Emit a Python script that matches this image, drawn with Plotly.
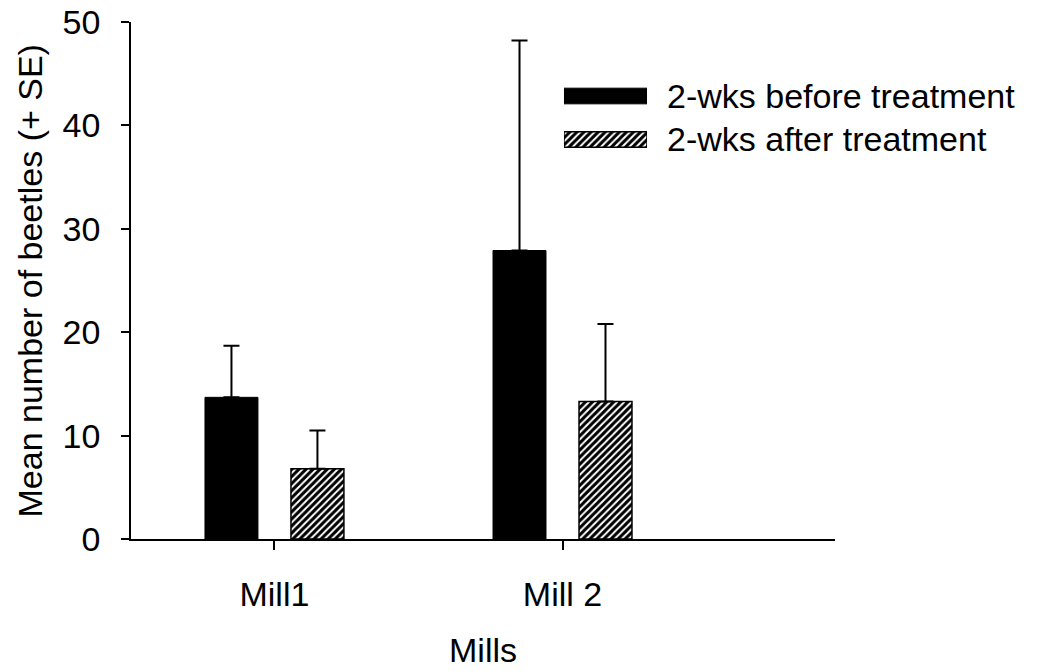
import plotly.graph_objects as go

mills = ["Mill1", "Mill 2"]
mill_pos = [0, 1]
before_mean = [13.7, 27.9]
before_se = [5.0, 20.3]
after_mean = [6.8, 13.3]
after_se = [3.7, 7.5]
series_names = ["2-wks before treatment", "2-wks after treatment"]
y_ticks = [0, 10, 20, 30, 40, 50]
y_title = "Mean number of beetles (+ SE)"

FONT = "Arial, Liberation Sans, sans-serif"
FS = 34
HATCH = dict(shape="/", fgcolor="black", bgcolor="white", size=5, solidity=0.6, fgopacity=1)

fig = go.Figure()
fig.add_trace(go.Bar(
    x=mill_pos, y=before_mean, name=series_names[0],
    marker=dict(color="black", line=dict(color="black", width=1)),
    error_y=dict(type="data", array=before_se, arrayminus=[0, 0], symmetric=False,
                 color="black", thickness=2, width=8),
    showlegend=False,
))
fig.add_trace(go.Bar(
    x=mill_pos, y=after_mean, name=series_names[1],
    marker=dict(color="white", line=dict(color="black", width=1.5), pattern=HATCH),
    error_y=dict(type="data", array=after_se, arrayminus=[0, 0], symmetric=False,
                 color="black", thickness=2, width=8),
    showlegend=False,
))

# legend swatches drawn on a hidden auxiliary axis pair
fig.add_trace(go.Bar(
    x=[1], y=[1], base=[0], orientation="h", width=0.36, xaxis="x2", yaxis="y2",
    marker=dict(color="black", line=dict(color="black", width=1)),
    showlegend=False, hoverinfo="skip",
))
fig.add_trace(go.Bar(
    x=[1], y=[0], base=[0], orientation="h", width=0.36, xaxis="x2", yaxis="y2",
    marker=dict(color="white", line=dict(color="black", width=1.5), pattern=HATCH),
    showlegend=False, hoverinfo="skip",
))

fig.add_annotation(x=0.758, y=1.0, xref="paper", yref="y2", text=series_names[0],
                   showarrow=False, xanchor="left", yanchor="middle",
                   font=dict(family=FONT, size=FS, color="black"))
fig.add_annotation(x=0.758, y=0.0, xref="paper", yref="y2", text=series_names[1],
                   showarrow=False, xanchor="left", yanchor="middle",
                   font=dict(family=FONT, size=FS, color="black"))
fig.add_annotation(x=-0.1435, y=0.5, xref="paper", yref="paper", text=y_title,
                   textangle=-90, showarrow=False, xanchor="center", yanchor="middle",
                   font=dict(family=FONT, size=FS, color="black"))

fig.update_layout(
    width=1055, height=671,
    margin=dict(l=131, r=220, t=22, b=132),
    paper_bgcolor="white", plot_bgcolor="white",
    barmode="group", bargap=0.403, bargroupgap=0.384,
    font=dict(family=FONT, size=FS, color="black"),
    xaxis=dict(
        range=[-0.498, 1.946], tickvals=mill_pos, ticktext=mills, automargin=False,
        showline=True, linecolor="black", linewidth=1.5, mirror=False,
        ticks="outside", ticklen=9, tickwidth=1.5, tickcolor="black",
        showgrid=False, zeroline=False, ticklabelstandoff=15,
        title=dict(text="Mills", standoff=27, font=dict(size=FS)),
        tickfont=dict(size=FS),
    ),
    yaxis=dict(
        range=[0, 50], tickvals=y_ticks, automargin=False,
        showline=True, linecolor="black", linewidth=1.5,
        ticks="outside", ticklen=8, tickwidth=1.5, tickcolor="black",
        showgrid=False, zeroline=False, ticklabelstandoff=14,
        tickfont=dict(size=FS),
    ),
    xaxis2=dict(domain=[0.615, 0.733], range=[0, 1], visible=False, anchor="y2", fixedrange=True),
    yaxis2=dict(domain=[0.7307, 0.8989], range=[-0.5, 1.5], visible=False, anchor="x2", fixedrange=True),
)

fig.write_html("out.html")
